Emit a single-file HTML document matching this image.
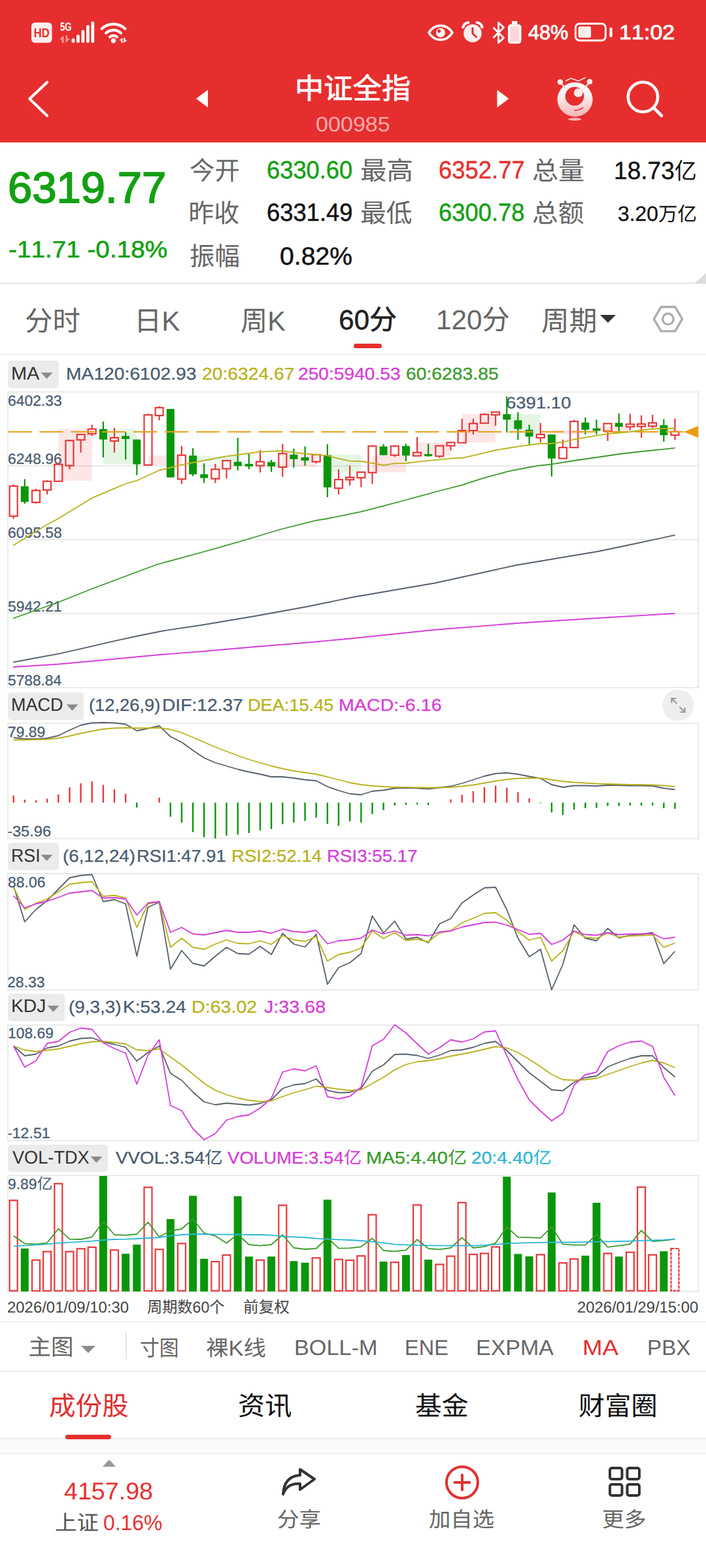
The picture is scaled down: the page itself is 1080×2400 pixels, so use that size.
<!DOCTYPE html><html lang="zh"><head><meta charset="utf-8"><title>中证全指 000985</title><style>
*{margin:0;padding:0;box-sizing:border-box}
html,body{width:1080px;height:2400px;background:#fff;overflow:hidden}
body{font-family:"Liberation Sans","Noto Sans CJK SC",sans-serif;position:relative;text-rendering:geometricPrecision;font-kerning:none}
#pg{position:absolute;left:0;top:0;width:1080px;height:2400px;overflow:hidden;background:#fff}
.t{position:absolute;white-space:nowrap;overflow:visible}
.a{position:absolute}
svg{display:block}
</style></head><body><div id="pg">
<div class="a" style="left:0;top:0;width:1080px;height:218px;background:#e62e2e"></div>
<div class="t" style="left:807.80px;top:34.26px;font-size:31px;line-height:31px;height:31px;color:#fff;transform:scaleX(0.9879);transform-origin:left center;-webkit-text-stroke:0.9px #fff;">48%</div>
<div class="t" style="left:946.90px;top:34.26px;font-size:31px;line-height:31px;height:31px;color:#fff;transform:scaleX(1.0997);transform-origin:left center;-webkit-text-stroke:0.9px #fff;">11:02</div>
<svg class="a" style="left:0;top:0" width="1080" height="100" viewBox="0 0 1080 100">
<rect x="48" y="34.500" width="31.500" height="31" rx="5.500" fill="#fdeeee"/>
<text x="63.700" y="57.300" font-family="Liberation Sans, sans-serif" font-weight="700" font-size="19.500" fill="#e62e2e" text-anchor="middle" textLength="24" lengthAdjust="spacingAndGlyphs">HD</text>
<text x="100.800" y="46.900" font-family="Liberation Sans, sans-serif" font-weight="700" font-size="18" fill="#fff" text-anchor="middle" textLength="17.500" lengthAdjust="spacingAndGlyphs">5G</text>
<g fill="#fff">
 <rect x="109.600" y="58.800" width="4.800" height="6.700" rx="1.800"/>
 <rect x="117" y="53.300" width="4.800" height="12.200" rx="1.800"/>
 <rect x="124.500" y="45.900" width="4.800" height="19.600" rx="1.800"/>
 <rect x="132" y="38.500" width="4.800" height="27" rx="1.800"/>
 <rect x="139.400" y="33" width="4.800" height="32.500" rx="1.800"/>
</g>
<g fill="#fff" opacity=".5"><path d="M91 60.500l6.500-6.300v11.200h-2.800v-4.900zM107 59.200l-6.500 6.300v-11.200h2.800v4.900z"/></g>
<g fill="none" stroke="#fff" stroke-width="4.200" stroke-linecap="round">
 <path d="M155.600 44a26 26 0 0 1 35.800 0"/>
 <path d="M162 50.700a16.500 16.500 0 0 1 23 0"/>
 <path d="M168 56.500a8 8 0 0 1 11 0"/>
</g>
<circle cx="173.500" cy="62.200" r="3.700" fill="#fff"/>
<path d="M182 61.700l5.600-4v7.800h-2.400v-3.800zM194.800 61.700l-5.600 4v-7.800h2.400v3.800z" fill="#fff"/>
<!-- eye -->
<path d="M656 50c9-14.500 27-14.500 36 0c-9 14.500-27 14.500-36 0z" fill="none" stroke="#fff" stroke-width="3.600"/>
<circle cx="674" cy="50" r="7" fill="#fff"/>
<circle cx="671.800" cy="47.600" r="2.600" fill="#e62e2e"/>
<!-- alarm -->
<circle cx="723" cy="51" r="13.800" fill="#fdeeee"/>
<path d="M723 43v8.500l5.500 5" fill="none" stroke="#e62e2e" stroke-width="3" stroke-linecap="round" stroke-linejoin="round"/>
<path d="M708.500 41.500a9 9 0 0 1 8-7M737.500 41.500a9 9 0 0 0-8-7" fill="none" stroke="#fff" stroke-width="4.200" stroke-linecap="round"/>
<!-- bluetooth -->
<path d="M754.500 42L770.500 58L762.500 65.500V34.500L770.500 42L754.500 58" fill="none" stroke="#fff" stroke-width="2.800" stroke-linejoin="round"/>
<!-- small battery -->
<rect x="778.500" y="38.800" width="17.500" height="26.400" rx="3" fill="#fbd8d8" stroke="#fff" stroke-width="3"/>
<rect x="783" y="32.200" width="8.500" height="5" rx="1.200" fill="#fff"/>
<!-- battery -->
<rect x="880.400" y="36.300" width="46" height="25.600" rx="6" fill="none" stroke="#fff" stroke-width="3"/>
<rect x="884.600" y="40.500" width="19.500" height="17.300" rx="2" fill="#fdeeee"/>
<rect x="932.500" y="42" width="4.200" height="15" rx="2.100" fill="#fff"/>
</svg>
<svg class="a" style="left:0;top:100px" width="1080" height="118" viewBox="0 100 1080 118">
<path d="M72 126L45.300 151.300L72 177" fill="none" stroke="#fff" stroke-width="4.200" stroke-linecap="round" stroke-linejoin="round"/>
<path d="M300 151l18-13.500v27z" fill="#fff"/>
<path d="M778.500 151l-18-13.500v27z" fill="#fff"/>
<circle cx="983.500" cy="148.500" r="22.700" fill="none" stroke="#fff" stroke-width="4.600"/>
<path d="M1000 165l12 12" stroke="#fff" stroke-width="4.800" stroke-linecap="round"/>
<!-- mascot -->
<defs><linearGradient id="mg" x1="0" y1="0" x2="0" y2="1"><stop offset="0" stop-color="#fff"/><stop offset=".4" stop-color="#fdeeee"/><stop offset="1" stop-color="#f7b2b2"/></linearGradient></defs>
<ellipse cx="879.600" cy="152.200" rx="27" ry="26.300" fill="url(#mg)"/>
<circle cx="879" cy="147.400" r="14.300" fill="#e62e2e"/>
<circle cx="884.700" cy="142" r="6.800" fill="#fdeaea"/>
<path d="M879 169q7.500-.2 12.700-4.300" stroke="#e62e2e" stroke-width="1.500" fill="none" stroke-linecap="round"/>
<circle cx="857" cy="125.500" r="4.300" fill="#fdeaea"/><circle cx="902" cy="125" r="4.300" fill="#fdeaea"/>
<path d="M858 127l7 8M901 127l-7 8" stroke="#fce0e0" stroke-width="2.200"/>
<path d="M865.200 124l8.200-4.200 11.400 4.200 11-5.300" stroke="#fdeaea" stroke-width="1.500" fill="none"/>
<ellipse cx="879.200" cy="182.500" rx="10.200" ry="2.200" fill="#f7b0b0"/>
</svg>
<div class="t" style="left:450.75px;top:114.55px;font-size:44px;line-height:44px;height:44px;color:#fff;transform:scaleX(1.0068);transform-origin:left center;-webkit-text-stroke:0.8px #fff;">中证全指</div>
<div class="t" style="left:482.97px;top:174.21px;font-size:32px;line-height:32px;height:32px;color:rgba(255,255,255,.62);transform:scaleX(1.0654);transform-origin:left center;">000985</div>
<div class="t" style="left:12.40px;top:255.01px;font-size:66.5px;line-height:66.5px;height:66.5px;color:#14a014;transform:scaleX(1.0079);transform-origin:left center;-webkit-text-stroke:1.8px #14a014;">6319.77</div>
<div class="t" style="left:12.78px;top:363.83px;font-size:36px;line-height:36px;height:36px;color:#14a014;transform:scaleX(1.0750);transform-origin:left center;-webkit-text-stroke:0.6px #14a014;">-11.71 -0.18%</div>
<div class="t" style="left:289.96px;top:243.49px;font-size:39px;line-height:39px;height:39px;color:#666;transform:scaleX(0.9846);transform-origin:left center;">今开</div>
<div class="t" style="left:288.34px;top:308.49px;font-size:39px;line-height:39px;height:39px;color:#666;">昨收</div>
<div class="t" style="left:289.88px;top:374.49px;font-size:39px;line-height:39px;height:39px;color:#666;transform:scaleX(0.9841);transform-origin:left center;">振幅</div>
<div class="t" style="left:408.16px;top:241.83px;font-size:38px;line-height:38px;height:38px;color:#14a014;transform:scaleX(0.9556);transform-origin:left center;-webkit-text-stroke:0.5px #14a014;">6330.60</div>
<div class="t" style="left:408.15px;top:306.83px;font-size:38px;line-height:38px;height:38px;color:#111;transform:scaleX(0.9579);transform-origin:left center;-webkit-text-stroke:0.5px #111;">6331.49</div>
<div class="t" style="left:428.47px;top:373.83px;font-size:38px;line-height:38px;height:38px;color:#111;transform:scaleX(1.0295);transform-origin:left center;-webkit-text-stroke:0.5px #111;">0.82%</div>
<div class="t" style="left:550.60px;top:243.49px;font-size:39px;line-height:39px;height:39px;color:#666;transform:scaleX(1.0379);transform-origin:left center;">最高</div>
<div class="t" style="left:550.63px;top:308.49px;font-size:39px;line-height:39px;height:39px;color:#666;transform:scaleX(1.0216);transform-origin:left center;">最低</div>
<div class="t" style="left:671.15px;top:241.83px;font-size:38px;line-height:38px;height:38px;color:#e83030;transform:scaleX(0.9587);transform-origin:left center;-webkit-text-stroke:0.5px #e83030;">6352.77</div>
<div class="t" style="left:671.15px;top:306.83px;font-size:38px;line-height:38px;height:38px;color:#14a014;transform:scaleX(0.9568);transform-origin:left center;-webkit-text-stroke:0.5px #14a014;">6300.78</div>
<div class="t" style="left:814.28px;top:243.49px;font-size:39px;line-height:39px;height:39px;color:#666;transform:scaleX(1.0259);transform-origin:left center;">总量</div>
<div class="t" style="left:814.29px;top:308.49px;font-size:39px;line-height:39px;height:39px;color:#666;transform:scaleX(1.0169);transform-origin:left center;">总额</div>
<div class="t" style="left:939.17px;top:242.83px;font-size:38px;line-height:38px;height:38px;color:#111;transform:scaleX(0.9761);transform-origin:left center;-webkit-text-stroke:0.4px #111;">18.73<span style="font-size:34.96px;-webkit-text-stroke:0">亿</span></div>
<div class="t" style="left:944.79px;top:311.41px;font-size:32px;line-height:32px;height:32px;color:#111;transform:scaleX(0.9938);transform-origin:left center;-webkit-text-stroke:0.3px #111;">3.20<span style="font-size:29.76px;-webkit-text-stroke:0">万亿</span></div>
<div class="a" style="left:0;top:432px;width:1080px;height:3px;background:#ececec"></div>
<svg class="a" style="left:1060px;top:418px" width="20" height="16"><path d="M20 0V16H2z" fill="#dcdcdc"/></svg>
<div class="t" style="left:38.13px;top:471.45px;font-size:42px;line-height:42px;height:42px;color:#666;transform:scaleX(1.0117);transform-origin:left center;">分时</div>
<div class="t" style="left:205.07px;top:471.45px;font-size:42px;line-height:42px;height:42px;color:#666;transform:scaleX(1.0056);transform-origin:left center;">日K</div>
<div class="t" style="left:367.64px;top:471.45px;font-size:42px;line-height:42px;height:42px;color:#666;transform:scaleX(0.9830);transform-origin:left center;">周K</div>
<div class="t" style="left:518.37px;top:469.45px;font-size:42px;line-height:42px;height:42px;color:#222;-webkit-text-stroke:0.6px #222;">60分</div>
<div class="t" style="left:666.78px;top:469.45px;font-size:42px;line-height:42px;height:42px;color:#666;transform:scaleX(1.0071);transform-origin:left center;">120分</div>
<div class="t" style="left:827.59px;top:471.45px;font-size:42px;line-height:42px;height:42px;color:#666;transform:scaleX(1.0183);transform-origin:left center;">周期</div>
<svg class="a" style="left:916px;top:478px" width="28" height="18"><path d="M2 4h24l-12 12z" fill="#333"/></svg>
<div class="a" style="left:541px;top:526px;width:43px;height:7px;border-radius:4px;background:#e62e2e"></div>
<svg class="a" style="left:995px;top:461px" width="54" height="54" viewBox="0 0 54 54"><path d="M16.200 8.700h21.600l10.800 18.600-10.800 18.600h-21.600l-10.800-18.600z" fill="none" stroke="#adadad" stroke-width="3.400" stroke-linejoin="round"/><circle cx="27" cy="27.300" r="8.300" fill="none" stroke="#adadad" stroke-width="3.400"/></svg>
<div class="a" style="left:0;top:542px;width:1080px;height:2px;background:#eee"></div>
<svg class="a" style="z-index:1;left:0;top:540px" width="1080" height="1480" viewBox="0 540 1080 1480"><rect x="12.0" y="600.0" width="1056.5" height="452.5" fill="none" stroke="#e3e3e3" stroke-width="1.500"/><path d="M12.0 713.3L1068.5 713.3" stroke="#e3e3e3" stroke-width="1.5"/><path d="M12.0 826.0L1068.5 826.0" stroke="#e3e3e3" stroke-width="1.5"/><path d="M12.0 939.0L1068.5 939.0" stroke="#e3e3e3" stroke-width="1.5"/><rect x="89.3" y="656.7" width="51.4" height="79.0" fill="rgba(240,63,63,.13)"/><rect x="157.7" y="656.7" width="51.3" height="54.0" fill="rgba(48,178,48,.13)"/><rect x="226.7" y="697.3" width="51.3" height="14.4" fill="rgba(240,63,63,.13)"/><rect x="295.0" y="697.5" width="68.7" height="8.0" fill="rgba(48,178,48,.13)"/><rect x="363.7" y="705.5" width="68.3" height="8.2" fill="rgba(43,180,43,.07)"/><rect x="432.0" y="694.0" width="52.0" height="20.0" fill="rgba(240,63,63,.13)"/><rect x="501.0" y="696.0" width="51.0" height="26.7" fill="rgba(48,178,48,.13)"/><rect x="569.5" y="697.3" width="51.5" height="25.4" fill="rgba(240,63,63,.13)"/><rect x="638.0" y="677.3" width="51.5" height="20.0" fill="rgba(240,63,63,.13)"/><rect x="706.7" y="634.0" width="51.3" height="43.3" fill="rgba(240,63,63,.13)"/><rect x="775.0" y="634.0" width="51.7" height="30.0" fill="rgba(48,178,48,.13)"/><rect x="843.9" y="658.0" width="51.1" height="6.0" fill="rgba(240,63,63,.13)"/><rect x="912.5" y="652.5" width="51.5" height="7.5" fill="rgba(240,63,63,.13)"/><rect x="1009.4" y="654.3" width="24.3" height="6.7" fill="rgba(48,178,48,.13)"/><path d="M20.7 741.7V744.0" stroke="#e8383a" stroke-width="2.2"/><path d="M20.7 790.0V794.0" stroke="#e8383a" stroke-width="2.2"/><rect x="14.7" y="744.0" width="12.0" height="46.0" fill="none" stroke="#e8383a" stroke-width="2.200"/><path d="M37.8 733.3V771.0" stroke="#0a960a" stroke-width="2.2"/><rect x="31.8" y="744.3" width="12.0" height="24.0" fill="#0a960a"/><path d="M55.0 748.0V750.7" stroke="#e8383a" stroke-width="2.2"/><path d="M55.0 769.0V770.7" stroke="#e8383a" stroke-width="2.2"/><rect x="49.0" y="750.7" width="12.0" height="18.3" fill="none" stroke="#e8383a" stroke-width="2.200"/><path d="M72.1 735.0V736.7" stroke="#e8383a" stroke-width="2.2"/><path d="M72.1 750.0V756.7" stroke="#e8383a" stroke-width="2.2"/><rect x="66.1" y="736.7" width="12.0" height="13.3" fill="none" stroke="#e8383a" stroke-width="2.200"/><path d="M89.3 709.0V710.7" stroke="#e8383a" stroke-width="2.2"/><rect x="83.3" y="710.7" width="12.0" height="26.0" fill="none" stroke="#e8383a" stroke-width="2.200"/><path d="M106.5 673.0V674.3" stroke="#e8383a" stroke-width="2.2"/><path d="M106.5 712.7V718.3" stroke="#e8383a" stroke-width="2.2"/><rect x="100.5" y="674.3" width="12.0" height="38.4" fill="none" stroke="#e8383a" stroke-width="2.200"/><path d="M123.6 664.0V665.0" stroke="#e8383a" stroke-width="2.2"/><path d="M123.6 673.3V692.7" stroke="#e8383a" stroke-width="2.2"/><rect x="117.6" y="665.0" width="12.0" height="8.3" fill="none" stroke="#e8383a" stroke-width="2.200"/><path d="M140.7 650.0V656.7" stroke="#e8383a" stroke-width="2.2"/><path d="M140.7 664.0V667.3" stroke="#e8383a" stroke-width="2.2"/><rect x="134.7" y="656.7" width="12.0" height="7.3" fill="none" stroke="#e8383a" stroke-width="2.200"/><path d="M157.9 645.3V700.0" stroke="#0a960a" stroke-width="2.2"/><rect x="151.9" y="656.7" width="12.0" height="16.0" fill="#0a960a"/><path d="M175.0 655.0V670.0" stroke="#e8383a" stroke-width="2.2"/><path d="M175.0 675.0V692.7" stroke="#e8383a" stroke-width="2.2"/><rect x="169.0" y="670.0" width="12.0" height="5.0" fill="none" stroke="#e8383a" stroke-width="2.200"/><path d="M192.2 661.7V703.3" stroke="#0a960a" stroke-width="2.2"/><rect x="186.2" y="667.3" width="12.0" height="4.7" fill="#0a960a"/><path d="M209.3 672.7V727.3" stroke="#0a960a" stroke-width="2.2"/><rect x="203.3" y="672.7" width="12.0" height="38.0" fill="#0a960a"/><path d="M226.5 633.3V635.0" stroke="#e8383a" stroke-width="2.2"/><rect x="220.5" y="635.0" width="12.0" height="76.7" fill="none" stroke="#e8383a" stroke-width="2.200"/><path d="M243.6 621.7V624.0" stroke="#e8383a" stroke-width="2.2"/><path d="M243.6 636.0V643.3" stroke="#e8383a" stroke-width="2.2"/><rect x="237.6" y="624.0" width="12.0" height="12.0" fill="none" stroke="#e8383a" stroke-width="2.200"/><path d="M260.8 626.0V730.7" stroke="#0a960a" stroke-width="2.2"/><rect x="254.8" y="626.0" width="12.0" height="104.7" fill="#0a960a"/><path d="M277.9 682.7V696.7" stroke="#e8383a" stroke-width="2.2"/><path d="M277.9 733.3V740.7" stroke="#e8383a" stroke-width="2.2"/><rect x="271.9" y="696.7" width="12.0" height="36.6" fill="none" stroke="#e8383a" stroke-width="2.200"/><path d="M295.1 686.0V728.7" stroke="#0a960a" stroke-width="2.2"/><rect x="289.1" y="697.3" width="12.0" height="28.7" fill="#0a960a"/><path d="M312.2 709.3V739.3" stroke="#0a960a" stroke-width="2.2"/><rect x="306.2" y="726.0" width="12.0" height="5.7" fill="#0a960a"/><path d="M329.4 710.0V718.3" stroke="#e8383a" stroke-width="2.2"/><path d="M329.4 732.7V739.3" stroke="#e8383a" stroke-width="2.2"/><rect x="323.4" y="718.3" width="12.0" height="14.4" fill="none" stroke="#e8383a" stroke-width="2.200"/><path d="M346.5 717.5V732.5" stroke="#e8383a" stroke-width="2.2"/><rect x="340.5" y="705.0" width="12.0" height="12.5" fill="none" stroke="#e8383a" stroke-width="2.200"/><path d="M363.7 670.0V720.0" stroke="#0a960a" stroke-width="2.2"/><rect x="357.7" y="706.7" width="12.0" height="6.6" fill="#0a960a"/><path d="M380.8 695.0V718.3" stroke="#0a960a" stroke-width="2.2"/><rect x="374.8" y="710.0" width="12.0" height="4.0" fill="#0a960a"/><path d="M398.0 689.0V706.7" stroke="#e8383a" stroke-width="2.2"/><path d="M398.0 712.7V723.3" stroke="#e8383a" stroke-width="2.2"/><rect x="392.0" y="706.7" width="12.0" height="6.0" fill="none" stroke="#e8383a" stroke-width="2.200"/><path d="M415.1 704.0V722.3" stroke="#0a960a" stroke-width="2.2"/><rect x="409.1" y="707.3" width="12.0" height="6.7" fill="#0a960a"/><path d="M432.3 679.3V694.3" stroke="#e8383a" stroke-width="2.2"/><path d="M432.3 715.0V730.0" stroke="#e8383a" stroke-width="2.2"/><rect x="426.3" y="694.3" width="12.0" height="20.7" fill="none" stroke="#e8383a" stroke-width="2.200"/><path d="M449.4 686.7V715.7" stroke="#0a960a" stroke-width="2.2"/><rect x="443.4" y="696.0" width="12.0" height="6.7" fill="#0a960a"/><path d="M466.6 683.3V712.7" stroke="#0a960a" stroke-width="2.2"/><rect x="460.6" y="700.0" width="12.0" height="5.0" fill="#0a960a"/><path d="M483.7 706.7V709.3" stroke="#e8383a" stroke-width="2.2"/><rect x="477.7" y="696.0" width="12.0" height="10.7" fill="none" stroke="#e8383a" stroke-width="2.200"/><path d="M500.9 680.0V761.0" stroke="#0a960a" stroke-width="2.2"/><rect x="494.9" y="696.7" width="12.0" height="49.3" fill="#0a960a"/><path d="M518.0 718.3V734.0" stroke="#e8383a" stroke-width="2.2"/><path d="M518.0 747.3V756.7" stroke="#e8383a" stroke-width="2.2"/><rect x="512.0" y="734.0" width="12.0" height="13.3" fill="none" stroke="#e8383a" stroke-width="2.200"/><path d="M535.2 712.7V730.7" stroke="#e8383a" stroke-width="2.2"/><path d="M535.2 734.3V743.3" stroke="#e8383a" stroke-width="2.2"/><rect x="529.2" y="730.7" width="12.0" height="3.6" fill="none" stroke="#e8383a" stroke-width="2.200"/><path d="M552.4 731.3V745.7" stroke="#e8383a" stroke-width="2.2"/><rect x="546.4" y="722.7" width="12.0" height="8.6" fill="none" stroke="#e8383a" stroke-width="2.200"/><path d="M569.5 681.7V682.7" stroke="#e8383a" stroke-width="2.2"/><path d="M569.5 723.3V740.7" stroke="#e8383a" stroke-width="2.2"/><rect x="563.5" y="682.7" width="12.0" height="40.6" fill="none" stroke="#e8383a" stroke-width="2.200"/><path d="M586.6 680.0V697.0" stroke="#0a960a" stroke-width="2.2"/><rect x="580.6" y="683.3" width="12.0" height="13.4" fill="#0a960a"/><path d="M603.8 681.7V682.7" stroke="#e8383a" stroke-width="2.2"/><path d="M603.8 696.7V699.3" stroke="#e8383a" stroke-width="2.2"/><rect x="597.8" y="682.7" width="12.0" height="14.0" fill="none" stroke="#e8383a" stroke-width="2.200"/><path d="M621.0 679.3V706.0" stroke="#0a960a" stroke-width="2.2"/><rect x="615.0" y="682.7" width="12.0" height="14.6" fill="#0a960a"/><path d="M638.1 669.0V692.7" stroke="#e8383a" stroke-width="2.2"/><rect x="632.1" y="692.7" width="12.0" height="5.0" fill="none" stroke="#e8383a" stroke-width="2.200"/><path d="M655.2 679.3V699.0" stroke="#0a960a" stroke-width="2.2"/><rect x="649.2" y="695.0" width="12.0" height="3.3" fill="#0a960a"/><path d="M672.4 681.7V682.3" stroke="#e8383a" stroke-width="2.2"/><path d="M672.4 698.3V700.7" stroke="#e8383a" stroke-width="2.2"/><rect x="666.4" y="682.3" width="12.0" height="16.0" fill="none" stroke="#e8383a" stroke-width="2.200"/><path d="M689.5 676.0V677.3" stroke="#e8383a" stroke-width="2.2"/><path d="M689.5 682.3V689.3" stroke="#e8383a" stroke-width="2.2"/><rect x="683.5" y="677.3" width="12.0" height="5.0" fill="none" stroke="#e8383a" stroke-width="2.200"/><path d="M706.7 641.0V659.0" stroke="#e8383a" stroke-width="2.2"/><rect x="700.7" y="659.0" width="12.0" height="18.7" fill="none" stroke="#e8383a" stroke-width="2.200"/><path d="M723.9 641.0V648.3" stroke="#e8383a" stroke-width="2.2"/><path d="M723.9 659.0V665.0" stroke="#e8383a" stroke-width="2.2"/><rect x="717.9" y="648.3" width="12.0" height="10.7" fill="none" stroke="#e8383a" stroke-width="2.200"/><path d="M741.0 632.3V634.3" stroke="#e8383a" stroke-width="2.2"/><rect x="735.0" y="634.3" width="12.0" height="13.4" fill="none" stroke="#e8383a" stroke-width="2.200"/><path d="M758.1 630.0V630.7" stroke="#e8383a" stroke-width="2.2"/><path d="M758.1 635.0V651.7" stroke="#e8383a" stroke-width="2.2"/><rect x="752.1" y="630.7" width="12.0" height="4.3" fill="none" stroke="#e8383a" stroke-width="2.200"/><path d="M775.3 606.7V661.7" stroke="#0a960a" stroke-width="2.2"/><rect x="769.3" y="634.0" width="12.0" height="8.3" fill="#0a960a"/><path d="M792.4 631.0V673.3" stroke="#0a960a" stroke-width="2.2"/><rect x="786.4" y="643.3" width="12.0" height="13.4" fill="#0a960a"/><path d="M809.6 650.0V680.0" stroke="#0a960a" stroke-width="2.2"/><rect x="803.6" y="657.7" width="12.0" height="10.6" fill="#0a960a"/><path d="M826.8 647.3V665.0" stroke="#e8383a" stroke-width="2.2"/><path d="M826.8 670.0V677.3" stroke="#e8383a" stroke-width="2.2"/><rect x="820.8" y="665.0" width="12.0" height="5.0" fill="none" stroke="#e8383a" stroke-width="2.200"/><path d="M843.9 665.0V729.3" stroke="#0a960a" stroke-width="2.2"/><rect x="837.9" y="665.0" width="12.0" height="36.7" fill="#0a960a"/><path d="M861.0 672.7V685.0" stroke="#e8383a" stroke-width="2.2"/><rect x="855.0" y="685.0" width="12.0" height="16.7" fill="none" stroke="#e8383a" stroke-width="2.200"/><path d="M878.2 642.7V645.0" stroke="#e8383a" stroke-width="2.2"/><rect x="872.2" y="645.0" width="12.0" height="40.0" fill="none" stroke="#e8383a" stroke-width="2.200"/><path d="M895.4 639.0V665.0" stroke="#0a960a" stroke-width="2.2"/><rect x="889.4" y="646.7" width="12.0" height="11.0" fill="#0a960a"/><path d="M912.5 642.3V665.0" stroke="#0a960a" stroke-width="2.2"/><rect x="906.5" y="655.7" width="12.0" height="3.6" fill="#0a960a"/><path d="M929.6 660.0V675.0" stroke="#e8383a" stroke-width="2.2"/><rect x="923.6" y="648.3" width="12.0" height="11.7" fill="none" stroke="#e8383a" stroke-width="2.200"/><path d="M946.8 632.7V662.7" stroke="#0a960a" stroke-width="2.2"/><rect x="940.8" y="647.3" width="12.0" height="6.0" fill="#0a960a"/><path d="M963.9 633.3V649.3" stroke="#e8383a" stroke-width="2.2"/><path d="M963.9 653.3V658.3" stroke="#e8383a" stroke-width="2.2"/><rect x="957.9" y="649.3" width="12.0" height="4.0" fill="none" stroke="#e8383a" stroke-width="2.200"/><path d="M981.1 635.7V649.0" stroke="#e8383a" stroke-width="2.2"/><path d="M981.1 652.7V670.0" stroke="#e8383a" stroke-width="2.2"/><rect x="975.1" y="649.0" width="12.0" height="3.7" fill="none" stroke="#e8383a" stroke-width="2.200"/><path d="M998.2 635.0V647.3" stroke="#e8383a" stroke-width="2.2"/><path d="M998.2 652.3V655.0" stroke="#e8383a" stroke-width="2.2"/><rect x="992.2" y="647.3" width="12.0" height="5.0" fill="none" stroke="#e8383a" stroke-width="2.200"/><path d="M1015.4 641.7V676.0" stroke="#0a960a" stroke-width="2.2"/><rect x="1009.4" y="650.7" width="12.0" height="15.3" fill="#0a960a"/><path d="M1032.5 640.7V660.7" stroke="#e8383a" stroke-width="2.2"/><path d="M1032.5 666.0V673.3" stroke="#e8383a" stroke-width="2.2"/><rect x="1026.5" y="660.7" width="12.0" height="5.3" fill="none" stroke="#e8383a" stroke-width="2.200"/><path d="M12.500 661H1046" stroke="#e8a21c" stroke-width="2" stroke-dasharray="36.400 11.500"/><path d="M1046 661l22 -9v18z" fill="#eb9d12"/><polyline points="20.0,1021.0 90.0,1016.5 140.0,1012.0 240.0,1002.5 310.0,997.0 390.0,990.0 470.0,983.5 540.0,977.0 665.0,964.0 790.0,954.0 915.0,946.0 1032.5,939.0" fill="none" stroke="#d63cd9" stroke-width="1.8" stroke-linejoin="round"/><polyline points="20.0,1013.7 50.0,1008.0 90.0,1000.7 130.0,991.7 175.0,981.2 215.0,972.5 250.0,965.5 310.0,956.5 390.0,943.0 470.0,928.5 540.0,914.0 665.0,892.5 790.0,865.0 915.0,844.0 970.0,832.5 1032.5,819.0" fill="none" stroke="#56606c" stroke-width="1.8" stroke-linejoin="round"/><polyline points="20.0,946.5 90.0,921.5 140.0,901.5 240.0,864.0 310.0,845.0 340.0,836.7 380.0,825.0 430.0,810.0 483.3,796.7 500.0,794.0 551.7,783.3 586.7,774.3 621.7,765.0 673.3,751.0 706.7,742.3 740.0,731.7 776.7,721.7 810.0,715.0 826.7,712.3 843.3,710.7 878.3,705.0 913.3,700.0 946.7,695.0 981.7,691.0 1015.0,687.7 1032.7,685.7" fill="none" stroke="#3a9a2a" stroke-width="1.8" stroke-linejoin="round"/><polyline points="20.0,835.0 71.7,803.3 90.0,793.3 140.0,762.7 173.3,748.3 193.3,740.0 209.0,735.7 243.3,720.0 260.0,716.0 276.7,711.7 311.7,705.0 346.7,698.3 380.0,694.0 396.7,691.7 430.0,690.0 450.0,692.7 483.3,696.0 500.0,697.3 516.7,701.7 535.0,705.7 551.7,706.0 570.0,709.0 586.7,712.0 603.3,709.3 621.7,709.0 640.0,706.7 673.3,703.3 690.0,701.7 706.7,701.0 723.3,697.3 740.0,693.3 758.3,689.0 776.7,686.0 793.3,683.3 810.0,681.0 826.7,679.0 843.3,679.0 861.7,676.5 878.3,672.5 896.7,669.3 913.3,666.7 930.0,664.2 946.7,662.5 963.3,661.0 981.7,658.5 998.3,656.5 1015.0,655.8 1032.7,655.5" fill="none" stroke="#b9b11c" stroke-width="1.8" stroke-linejoin="round"/><rect x="12.0" y="1107.0" width="1056.5" height="176.5" fill="none" stroke="#e3e3e3" stroke-width="1.500"/><path d="M20.7 1228.5V1217.5" stroke="#e8383a" stroke-width="2.400"/><path d="M37.8 1228.5V1224.0" stroke="#e8383a" stroke-width="2.400"/><path d="M55.0 1228.5V1225.0" stroke="#e8383a" stroke-width="2.400"/><path d="M72.1 1228.5V1222.5" stroke="#e8383a" stroke-width="2.400"/><path d="M89.3 1228.5V1216.0" stroke="#e8383a" stroke-width="2.400"/><path d="M106.5 1228.5V1205.0" stroke="#e8383a" stroke-width="2.400"/><path d="M123.6 1228.5V1199.0" stroke="#e8383a" stroke-width="2.400"/><path d="M140.7 1228.5V1196.0" stroke="#e8383a" stroke-width="2.400"/><path d="M157.9 1228.5V1201.5" stroke="#e8383a" stroke-width="2.400"/><path d="M175.0 1228.5V1208.0" stroke="#e8383a" stroke-width="2.400"/><path d="M192.2 1228.5V1215.0" stroke="#e8383a" stroke-width="2.400"/><path d="M209.3 1228.5V1236.0" stroke="#0a960a" stroke-width="2.400"/><path d="M243.6 1228.5V1221.0" stroke="#e8383a" stroke-width="2.400"/><path d="M260.8 1228.5V1250.0" stroke="#0a960a" stroke-width="2.400"/><path d="M277.9 1228.5V1259.0" stroke="#0a960a" stroke-width="2.400"/><path d="M295.1 1228.5V1273.5" stroke="#0a960a" stroke-width="2.400"/><path d="M312.2 1228.5V1281.5" stroke="#0a960a" stroke-width="2.400"/><path d="M329.4 1228.5V1283.5" stroke="#0a960a" stroke-width="2.400"/><path d="M346.5 1228.5V1279.0" stroke="#0a960a" stroke-width="2.400"/><path d="M363.7 1228.5V1277.5" stroke="#0a960a" stroke-width="2.400"/><path d="M380.8 1228.5V1275.0" stroke="#0a960a" stroke-width="2.400"/><path d="M398.0 1228.5V1271.0" stroke="#0a960a" stroke-width="2.400"/><path d="M415.1 1228.5V1269.0" stroke="#0a960a" stroke-width="2.400"/><path d="M432.3 1228.5V1261.5" stroke="#0a960a" stroke-width="2.400"/><path d="M449.4 1228.5V1259.0" stroke="#0a960a" stroke-width="2.400"/><path d="M466.6 1228.5V1256.5" stroke="#0a960a" stroke-width="2.400"/><path d="M483.7 1228.5V1251.5" stroke="#0a960a" stroke-width="2.400"/><path d="M500.9 1228.5V1261.0" stroke="#0a960a" stroke-width="2.400"/><path d="M518.0 1228.5V1264.0" stroke="#0a960a" stroke-width="2.400"/><path d="M535.2 1228.5V1257.0" stroke="#0a960a" stroke-width="2.400"/><path d="M552.4 1228.5V1259.0" stroke="#0a960a" stroke-width="2.400"/><path d="M569.5 1228.5V1246.0" stroke="#0a960a" stroke-width="2.400"/><path d="M586.6 1228.5V1240.0" stroke="#0a960a" stroke-width="2.400"/><path d="M603.8 1228.5V1233.0" stroke="#0a960a" stroke-width="2.400"/><path d="M621.0 1228.5V1232.0" stroke="#0a960a" stroke-width="2.400"/><path d="M638.1 1228.5V1231.5" stroke="#0a960a" stroke-width="2.400"/><path d="M655.2 1228.5V1232.0" stroke="#0a960a" stroke-width="2.400"/><path d="M689.5 1228.5V1223.5" stroke="#e8383a" stroke-width="2.400"/><path d="M706.7 1228.5V1216.5" stroke="#e8383a" stroke-width="2.400"/><path d="M723.9 1228.5V1211.0" stroke="#e8383a" stroke-width="2.400"/><path d="M741.0 1228.5V1205.0" stroke="#e8383a" stroke-width="2.400"/><path d="M758.1 1228.5V1202.5" stroke="#e8383a" stroke-width="2.400"/><path d="M775.3 1228.5V1205.5" stroke="#e8383a" stroke-width="2.400"/><path d="M792.4 1228.5V1212.5" stroke="#e8383a" stroke-width="2.400"/><path d="M809.6 1228.5V1222.0" stroke="#e8383a" stroke-width="2.400"/><path d="M826.8 1228.5V1229.5" stroke="#0a960a" stroke-width="2.400"/><path d="M843.9 1228.5V1243.5" stroke="#0a960a" stroke-width="2.400"/><path d="M861.0 1228.5V1247.5" stroke="#0a960a" stroke-width="2.400"/><path d="M878.2 1228.5V1239.0" stroke="#0a960a" stroke-width="2.400"/><path d="M895.4 1228.5V1237.0" stroke="#0a960a" stroke-width="2.400"/><path d="M912.5 1228.5V1236.5" stroke="#0a960a" stroke-width="2.400"/><path d="M929.6 1228.5V1233.5" stroke="#0a960a" stroke-width="2.400"/><path d="M946.8 1228.5V1233.5" stroke="#0a960a" stroke-width="2.400"/><path d="M963.9 1228.5V1233.0" stroke="#0a960a" stroke-width="2.400"/><path d="M981.1 1228.5V1233.0" stroke="#0a960a" stroke-width="2.400"/><path d="M998.2 1228.5V1233.0" stroke="#0a960a" stroke-width="2.400"/><path d="M1015.4 1228.5V1237.0" stroke="#0a960a" stroke-width="2.400"/><path d="M1032.5 1228.5V1238.0" stroke="#0a960a" stroke-width="2.400"/><polyline points="20.7,1129.0 37.8,1131.0 55.0,1131.0 72.1,1130.0 89.3,1126.0 106.5,1117.5 123.6,1110.0 140.7,1106.5 157.9,1106.0 175.0,1106.5 192.2,1108.5 209.3,1118.5 226.5,1115.0 243.6,1111.0 260.8,1127.5 277.9,1136.0 295.1,1148.5 312.2,1160.0 329.4,1167.5 346.5,1172.5 363.7,1177.5 380.8,1181.5 398.0,1185.0 415.1,1189.0 432.3,1189.0 449.4,1191.0 466.6,1193.5 483.7,1195.0 500.9,1204.0 518.0,1210.0 535.2,1215.0 552.4,1216.5 569.5,1211.0 586.6,1209.5 603.8,1206.5 621.0,1206.0 638.1,1206.5 655.2,1207.5 672.4,1205.5 689.5,1203.5 706.7,1199.0 723.9,1193.5 741.0,1188.0 758.1,1184.0 775.3,1183.0 792.4,1185.0 809.6,1188.5 826.8,1191.5 843.9,1201.0 861.0,1205.0 878.2,1202.5 895.4,1202.5 912.5,1203.0 929.6,1202.0 946.8,1202.0 963.9,1202.5 981.1,1202.5 998.2,1203.0 1015.4,1206.5 1032.5,1208.5" fill="none" stroke="#56606c" stroke-width="1.8" stroke-linejoin="round"/><polyline points="20.7,1132.5 37.8,1132.5 55.0,1132.0 72.1,1131.5 89.3,1130.0 106.5,1126.5 123.6,1122.5 140.7,1119.0 157.9,1116.0 175.0,1114.5 192.2,1114.0 209.3,1114.5 226.5,1114.5 243.6,1114.0 260.8,1116.5 277.9,1121.5 295.1,1128.5 312.2,1136.0 329.4,1143.5 346.5,1150.0 363.7,1156.5 380.8,1162.5 398.0,1167.5 415.1,1172.5 432.3,1176.5 449.4,1180.0 466.6,1182.5 483.7,1185.0 500.9,1189.0 518.0,1193.5 535.2,1198.0 552.4,1201.0 569.5,1203.0 586.6,1204.0 603.8,1205.0 621.0,1205.0 638.1,1205.5 655.2,1205.5 672.4,1205.5 689.5,1205.0 706.7,1203.5 723.9,1201.5 741.0,1198.5 758.1,1195.5 775.3,1193.0 792.4,1191.5 809.6,1191.0 826.8,1191.0 843.9,1193.5 861.0,1196.0 878.2,1197.5 895.4,1198.5 912.5,1199.5 929.6,1200.0 946.8,1200.5 963.9,1201.0 981.1,1201.0 998.2,1201.5 1015.4,1202.5 1032.5,1204.0" fill="none" stroke="#b9b11c" stroke-width="1.8" stroke-linejoin="round"/><rect x="12.0" y="1337.3" width="1056.5" height="177.7" fill="none" stroke="#e3e3e3" stroke-width="1.500"/><polyline points="20.7,1356.0 37.8,1411.0 55.0,1392.0 72.1,1378.5 89.3,1361.0 106.5,1343.5 123.6,1340.0 140.7,1338.5 157.9,1380.0 175.0,1377.0 192.2,1383.5 209.3,1463.5 226.5,1388.5 243.6,1381.0 260.8,1483.5 277.9,1455.0 295.1,1474.5 312.2,1478.5 329.4,1463.5 346.5,1450.0 363.7,1459.5 380.8,1460.5 398.0,1448.5 415.1,1461.0 432.3,1428.5 449.4,1445.0 466.6,1449.5 483.7,1430.0 500.9,1506.5 518.0,1481.0 535.2,1473.5 552.4,1459.5 569.5,1402.0 586.6,1428.0 603.8,1410.0 621.0,1437.5 638.1,1434.5 655.2,1443.0 672.4,1414.0 689.5,1406.0 706.7,1382.0 723.9,1370.0 741.0,1359.0 758.1,1358.0 775.3,1392.5 792.4,1436.0 809.6,1464.5 826.8,1453.0 843.9,1515.0 861.0,1476.0 878.2,1415.5 895.4,1436.0 912.5,1440.0 929.6,1421.0 946.8,1435.5 963.9,1431.5 981.1,1430.0 998.2,1427.5 1015.4,1475.0 1032.5,1456.0" fill="none" stroke="#56606c" stroke-width="1.8" stroke-linejoin="round"/><polyline points="20.7,1358.5 37.8,1392.0 55.0,1382.5 72.1,1376.0 89.3,1365.0 106.5,1353.5 123.6,1351.0 140.7,1349.5 157.9,1372.0 175.0,1370.5 192.2,1374.5 209.3,1419.5 226.5,1383.5 243.6,1380.0 260.8,1450.0 277.9,1436.0 295.1,1450.0 312.2,1453.0 329.4,1445.0 346.5,1438.5 363.7,1444.0 380.8,1444.5 398.0,1440.0 415.1,1445.5 432.3,1432.0 449.4,1438.5 466.6,1441.0 483.7,1433.5 500.9,1471.0 518.0,1461.0 535.2,1457.5 552.4,1451.0 569.5,1425.0 586.6,1436.5 603.8,1427.5 621.0,1439.5 638.1,1437.5 655.2,1441.5 672.4,1428.0 689.5,1424.5 706.7,1412.5 723.9,1405.5 741.0,1398.0 758.1,1397.0 775.3,1408.5 792.4,1426.0 809.6,1439.0 826.8,1434.5 843.9,1471.0 861.0,1455.0 878.2,1425.5 895.4,1434.5 912.5,1436.5 929.6,1428.0 946.8,1434.5 963.9,1432.5 981.1,1432.0 998.2,1431.0 1015.4,1450.0 1032.5,1443.5" fill="none" stroke="#b9b11c" stroke-width="1.8" stroke-linejoin="round"/><polyline points="20.7,1371.0 37.8,1389.5 55.0,1383.5 72.1,1379.5 89.3,1373.5 106.5,1367.0 123.6,1365.0 140.7,1363.0 157.9,1374.5 175.0,1374.0 192.2,1376.0 209.3,1400.5 226.5,1382.0 243.6,1380.0 260.8,1427.0 277.9,1419.5 295.1,1429.5 312.2,1431.0 329.4,1427.5 346.5,1424.0 363.7,1427.0 380.8,1427.0 398.0,1425.0 415.1,1428.5 432.3,1422.0 449.4,1426.0 466.6,1427.0 483.7,1424.0 500.9,1444.5 518.0,1440.0 535.2,1438.5 552.4,1436.0 569.5,1423.5 586.6,1429.5 603.8,1425.0 621.0,1431.5 638.1,1430.5 655.2,1432.5 672.4,1426.5 689.5,1425.0 706.7,1419.0 723.9,1415.5 741.0,1412.0 758.1,1411.5 775.3,1416.0 792.4,1423.0 809.6,1430.0 826.8,1428.5 843.9,1445.5 861.0,1439.0 878.2,1425.0 895.4,1430.5 912.5,1431.5 929.6,1427.5 946.8,1430.5 963.9,1429.5 981.1,1429.5 998.2,1429.0 1015.4,1437.0 1032.5,1434.5" fill="none" stroke="#d63cd9" stroke-width="1.8" stroke-linejoin="round"/><rect x="12.0" y="1569.0" width="1056.5" height="177.0" fill="none" stroke="#e3e3e3" stroke-width="1.500"/><polyline points="20.7,1601.0 37.8,1616.0 55.0,1613.5 72.1,1604.0 89.3,1601.0 106.5,1593.5 123.6,1589.5 140.7,1588.5 157.9,1595.0 175.0,1598.5 192.2,1603.0 209.3,1624.0 226.5,1611.0 243.6,1601.0 260.8,1643.0 277.9,1653.5 295.1,1671.5 312.2,1686.5 329.4,1691.0 346.5,1688.5 363.7,1690.0 380.8,1691.5 398.0,1689.0 415.1,1683.5 432.3,1666.0 449.4,1660.5 466.6,1658.5 483.7,1651.5 500.9,1669.0 518.0,1672.5 535.2,1672.0 552.4,1666.0 569.5,1639.5 586.6,1630.0 603.8,1614.0 621.0,1613.5 638.1,1615.5 655.2,1620.0 672.4,1615.0 689.5,1608.0 706.7,1607.0 723.9,1603.0 741.0,1597.0 758.1,1594.0 775.3,1608.0 792.4,1625.0 809.6,1642.0 826.8,1655.0 843.9,1668.0 861.0,1669.5 878.2,1656.5 895.4,1649.5 912.5,1647.0 929.6,1633.0 946.8,1626.0 963.9,1620.0 981.1,1616.0 998.2,1616.0 1015.4,1634.0 1032.5,1648.5" fill="none" stroke="#56606c" stroke-width="1.8" stroke-linejoin="round"/><polyline points="20.7,1601.0 37.8,1607.0 55.0,1609.5 72.1,1607.5 89.3,1605.5 106.5,1601.5 123.6,1597.5 140.7,1594.5 157.9,1594.0 175.0,1595.5 192.2,1598.0 209.3,1607.0 226.5,1608.0 243.6,1605.5 260.8,1618.0 277.9,1630.0 295.1,1644.0 312.2,1658.0 329.4,1669.0 346.5,1675.5 363.7,1680.5 380.8,1684.0 398.0,1686.0 415.1,1685.0 432.3,1678.5 449.4,1672.5 466.6,1668.0 483.7,1662.5 500.9,1664.5 518.0,1667.0 535.2,1669.0 552.4,1668.0 569.5,1658.5 586.6,1649.0 603.8,1637.5 621.0,1629.5 638.1,1625.0 655.2,1623.5 672.4,1620.5 689.5,1616.5 706.7,1613.5 723.9,1610.0 741.0,1606.0 758.1,1602.0 775.3,1604.0 792.4,1611.0 809.6,1621.5 826.8,1632.5 843.9,1644.5 861.0,1652.5 878.2,1653.5 895.4,1652.5 912.5,1650.5 929.6,1644.5 946.8,1638.5 963.9,1632.5 981.1,1627.0 998.2,1623.0 1015.4,1627.0 1032.5,1634.0" fill="none" stroke="#b9b11c" stroke-width="1.8" stroke-linejoin="round"/><polyline points="20.7,1601.0 37.8,1633.5 55.0,1623.5 72.1,1597.0 89.3,1594.0 106.5,1580.0 123.6,1573.5 140.7,1575.5 157.9,1596.0 175.0,1605.0 192.2,1612.0 209.3,1659.5 226.5,1615.0 243.6,1591.5 260.8,1692.0 277.9,1700.0 295.1,1727.5 312.2,1744.5 329.4,1735.0 346.5,1714.5 363.7,1709.0 380.8,1706.5 398.0,1696.0 415.1,1681.0 432.3,1641.0 449.4,1636.0 466.6,1639.0 483.7,1631.5 500.9,1678.5 518.0,1682.0 535.2,1678.0 552.4,1664.0 569.5,1600.5 586.6,1591.0 603.8,1568.5 621.0,1581.0 638.1,1597.5 655.2,1613.5 672.4,1603.5 689.5,1591.5 706.7,1595.0 723.9,1590.0 741.0,1579.5 758.1,1578.0 775.3,1616.0 792.4,1652.5 809.6,1683.5 826.8,1700.5 843.9,1715.5 861.0,1704.0 878.2,1661.0 895.4,1645.0 912.5,1641.0 929.6,1609.5 946.8,1600.5 963.9,1595.0 981.1,1593.5 998.2,1601.5 1015.4,1649.0 1032.5,1677.0" fill="none" stroke="#d63cd9" stroke-width="1.8" stroke-linejoin="round"/><rect x="12.0" y="1799.3" width="1056.5" height="177.4" fill="none" stroke="#e3e3e3" stroke-width="1.500"/><rect x="14.7" y="1837.3" width="12.0" height="138.4" fill="none" stroke="#e8383a" stroke-width="2.200"/><rect x="31.8" y="1911.0" width="12.0" height="65.7" fill="#0a960a"/><rect x="49.0" y="1928.7" width="12.0" height="47.0" fill="none" stroke="#e8383a" stroke-width="2.200"/><rect x="66.1" y="1915.7" width="12.0" height="60.0" fill="none" stroke="#e8383a" stroke-width="2.200"/><rect x="83.3" y="1811.7" width="12.0" height="164.0" fill="none" stroke="#e8383a" stroke-width="2.200"/><rect x="100.5" y="1915.7" width="12.0" height="60.0" fill="none" stroke="#e8383a" stroke-width="2.200"/><rect x="117.6" y="1911.3" width="12.0" height="64.4" fill="none" stroke="#e8383a" stroke-width="2.200"/><rect x="134.7" y="1909.0" width="12.0" height="66.7" fill="none" stroke="#e8383a" stroke-width="2.200"/><rect x="151.9" y="1800.0" width="12.0" height="176.7" fill="#0a960a"/><rect x="169.0" y="1913.3" width="12.0" height="62.4" fill="none" stroke="#e8383a" stroke-width="2.200"/><rect x="186.2" y="1919.0" width="12.0" height="57.7" fill="#0a960a"/><rect x="203.3" y="1905.0" width="12.0" height="71.7" fill="#0a960a"/><rect x="220.5" y="1817.3" width="12.0" height="158.4" fill="none" stroke="#e8383a" stroke-width="2.200"/><rect x="237.6" y="1912.3" width="12.0" height="63.4" fill="none" stroke="#e8383a" stroke-width="2.200"/><rect x="254.8" y="1866.0" width="12.0" height="110.7" fill="#0a960a"/><rect x="271.9" y="1903.3" width="12.0" height="72.4" fill="none" stroke="#e8383a" stroke-width="2.200"/><rect x="289.1" y="1830.3" width="12.0" height="146.4" fill="#0a960a"/><rect x="306.2" y="1926.7" width="12.0" height="50.0" fill="#0a960a"/><rect x="323.4" y="1931.0" width="12.0" height="44.7" fill="none" stroke="#e8383a" stroke-width="2.200"/><rect x="340.5" y="1921.0" width="12.0" height="54.7" fill="none" stroke="#e8383a" stroke-width="2.200"/><rect x="357.7" y="1831.0" width="12.0" height="145.7" fill="#0a960a"/><rect x="374.8" y="1923.3" width="12.0" height="53.4" fill="#0a960a"/><rect x="392.0" y="1928.7" width="12.0" height="47.0" fill="none" stroke="#e8383a" stroke-width="2.200"/><rect x="409.1" y="1923.3" width="12.0" height="53.4" fill="#0a960a"/><rect x="426.3" y="1844.7" width="12.0" height="131.0" fill="none" stroke="#e8383a" stroke-width="2.200"/><rect x="443.4" y="1930.3" width="12.0" height="46.4" fill="#0a960a"/><rect x="460.6" y="1932.7" width="12.0" height="44.0" fill="#0a960a"/><rect x="477.7" y="1925.3" width="12.0" height="50.4" fill="none" stroke="#e8383a" stroke-width="2.200"/><rect x="494.9" y="1836.3" width="12.0" height="140.4" fill="#0a960a"/><rect x="512.0" y="1927.7" width="12.0" height="48.0" fill="none" stroke="#e8383a" stroke-width="2.200"/><rect x="529.2" y="1929.0" width="12.0" height="46.7" fill="none" stroke="#e8383a" stroke-width="2.200"/><rect x="546.4" y="1922.3" width="12.0" height="53.4" fill="none" stroke="#e8383a" stroke-width="2.200"/><rect x="563.5" y="1859.3" width="12.0" height="116.4" fill="none" stroke="#e8383a" stroke-width="2.200"/><rect x="580.6" y="1931.0" width="12.0" height="45.7" fill="#0a960a"/><rect x="597.8" y="1932.0" width="12.0" height="43.7" fill="none" stroke="#e8383a" stroke-width="2.200"/><rect x="615.0" y="1921.0" width="12.0" height="55.7" fill="#0a960a"/><rect x="632.1" y="1844.3" width="12.0" height="131.4" fill="none" stroke="#e8383a" stroke-width="2.200"/><rect x="649.2" y="1928.0" width="12.0" height="48.7" fill="#0a960a"/><rect x="666.4" y="1935.3" width="12.0" height="40.4" fill="none" stroke="#e8383a" stroke-width="2.200"/><rect x="683.5" y="1922.7" width="12.0" height="53.0" fill="none" stroke="#e8383a" stroke-width="2.200"/><rect x="700.7" y="1840.7" width="12.0" height="135.0" fill="none" stroke="#e8383a" stroke-width="2.200"/><rect x="717.9" y="1920.0" width="12.0" height="55.7" fill="none" stroke="#e8383a" stroke-width="2.200"/><rect x="735.0" y="1918.5" width="12.0" height="57.2" fill="none" stroke="#e8383a" stroke-width="2.200"/><rect x="752.1" y="1908.5" width="12.0" height="67.2" fill="none" stroke="#e8383a" stroke-width="2.200"/><rect x="769.3" y="1801.0" width="12.0" height="175.7" fill="#0a960a"/><rect x="786.4" y="1919.3" width="12.0" height="57.4" fill="#0a960a"/><rect x="803.6" y="1923.0" width="12.0" height="53.7" fill="#0a960a"/><rect x="820.8" y="1920.4" width="12.0" height="55.3" fill="none" stroke="#e8383a" stroke-width="2.200"/><rect x="837.9" y="1825.2" width="12.0" height="151.5" fill="#0a960a"/><rect x="855.0" y="1933.0" width="12.0" height="42.7" fill="none" stroke="#e8383a" stroke-width="2.200"/><rect x="872.2" y="1927.0" width="12.0" height="48.7" fill="none" stroke="#e8383a" stroke-width="2.200"/><rect x="889.4" y="1921.9" width="12.0" height="54.8" fill="#0a960a"/><rect x="906.5" y="1841.0" width="12.0" height="135.7" fill="#0a960a"/><rect x="923.6" y="1918.5" width="12.0" height="57.2" fill="none" stroke="#e8383a" stroke-width="2.200"/><rect x="940.8" y="1923.3" width="12.0" height="53.4" fill="#0a960a"/><rect x="957.9" y="1916.7" width="12.0" height="59.0" fill="none" stroke="#e8383a" stroke-width="2.200"/><rect x="975.1" y="1817.0" width="12.0" height="158.7" fill="none" stroke="#e8383a" stroke-width="2.200"/><rect x="992.2" y="1920.7" width="12.0" height="55.0" fill="none" stroke="#e8383a" stroke-width="2.200"/><rect x="1009.4" y="1915.2" width="12.0" height="61.5" fill="#0a960a"/><rect x="1026.5" y="1911.0" width="12.0" height="64.7" fill="none" stroke="#e8383a" stroke-width="2.200" stroke-dasharray="5 1.200"/><polyline points="20.7,1891.7 37.8,1903.3 55.0,1904.3 72.1,1902.3 89.3,1880.7 106.5,1896.7 123.6,1897.0 140.7,1893.3 157.9,1870.0 175.0,1890.0 192.2,1890.7 209.3,1889.0 226.5,1870.7 243.6,1893.3 260.8,1884.0 277.9,1881.0 295.1,1866.0 312.2,1887.3 329.4,1891.7 346.5,1902.7 363.7,1889.3 380.8,1905.0 398.0,1906.7 415.1,1905.0 432.3,1890.0 449.4,1910.0 466.6,1912.0 483.7,1911.0 500.9,1894.3 518.0,1910.7 535.2,1910.3 552.4,1908.3 569.5,1895.3 586.6,1914.0 603.8,1915.3 621.0,1913.3 638.1,1897.3 655.2,1911.0 672.4,1912.3 689.5,1910.0 706.7,1894.4 723.9,1910.0 741.0,1908.1 758.1,1902.6 775.3,1878.1 792.4,1893.7 809.6,1894.1 826.8,1894.8 843.9,1877.8 861.0,1904.4 878.2,1905.6 895.4,1905.6 912.5,1889.6 929.6,1908.9 946.8,1906.7 963.9,1904.4 981.1,1883.3 998.2,1900.0 1015.4,1898.9 1032.5,1896.7" fill="none" stroke="#3a9a2a" stroke-width="1.8" stroke-linejoin="round"/><polyline points="20.7,1907.7 37.8,1906.3 55.0,1905.3 72.1,1904.3 89.3,1902.7 106.5,1901.7 123.6,1900.7 140.7,1899.7 157.9,1898.0 175.0,1897.0 192.2,1896.7 209.3,1896.0 226.5,1895.0 243.6,1894.0 260.8,1891.7 277.9,1890.0 295.1,1889.0 312.2,1889.0 329.4,1889.3 346.5,1889.7 363.7,1889.3 380.8,1890.0 398.0,1890.0 415.1,1890.7 432.3,1892.3 449.4,1893.3 466.6,1894.0 483.7,1895.7 500.9,1896.7 518.0,1897.3 535.2,1898.0 552.4,1899.0 569.5,1900.7 586.6,1902.3 603.8,1904.7 621.0,1905.3 638.1,1906.0 655.2,1906.3 672.4,1906.7 689.5,1906.7 706.7,1906.3 723.9,1906.7 741.0,1905.9 758.1,1904.8 775.3,1903.3 792.4,1902.6 809.6,1902.2 826.8,1901.9 843.9,1901.5 861.0,1901.5 878.2,1901.5 895.4,1901.1 912.5,1900.7 929.6,1900.4 946.8,1900.0 963.9,1899.6 981.1,1898.9 998.2,1898.5 1015.4,1897.8 1032.5,1896.7" fill="none" stroke="#2bb6d6" stroke-width="1.8" stroke-linejoin="round"/></svg>
<div class="a" style="left:12px;top:552px;width:78px;height:42px;background:#ebebeb;border-radius:5px"></div>
<div class="t" style="left:16.62px;top:558.30px;font-size:28px;line-height:28px;height:28px;color:#333;transform:scaleX(1.0341);transform-origin:left center;">MA</div>
<svg class="a" style="left:60px;top:568px" width="22" height="12"><path d="M2.500 2.300h18l-9 9.500z" fill="#8a8a8a"/></svg>
<div class="t" style="left:101.18px;top:558.99px;font-size:26px;line-height:26px;height:26px;color:#4a5c70;transform:scaleX(1.0870);transform-origin:left center;-webkit-text-stroke:0.3px currentColor;">MA120:6102.93</div>
<div class="t" style="left:308.58px;top:558.99px;font-size:26px;line-height:26px;height:26px;color:#b9b11c;transform:scaleX(1.0862);transform-origin:left center;-webkit-text-stroke:0.3px currentColor;">20:6324.67</div>
<div class="t" style="left:456.08px;top:558.99px;font-size:26px;line-height:26px;height:26px;color:#d63cd9;transform:scaleX(1.0835);transform-origin:left center;-webkit-text-stroke:0.3px currentColor;">250:5940.53</div>
<div class="t" style="left:621.06px;top:558.99px;font-size:26px;line-height:26px;height:26px;color:#3a9a2a;transform:scaleX(1.0884);transform-origin:left center;-webkit-text-stroke:0.3px currentColor;">60:6283.85</div>
<div class="t" style="left:11.54px;top:602.95px;font-size:22.5px;line-height:22.5px;height:22.5px;color:#4a5c70;transform:scaleX(1.0164);transform-origin:left center;-webkit-text-stroke:0.3px currentColor;">6402.33</div>
<div class="t" style="left:11.54px;top:692.25px;font-size:22.5px;line-height:22.5px;height:22.5px;color:#4a5c70;transform:scaleX(1.0164);transform-origin:left center;-webkit-text-stroke:0.3px currentColor;">6248.96</div>
<div class="t" style="left:11.54px;top:805.25px;font-size:22.5px;line-height:22.5px;height:22.5px;color:#4a5c70;transform:scaleX(1.0163);transform-origin:left center;-webkit-text-stroke:0.3px currentColor;">6095.58</div>
<div class="t" style="left:11.79px;top:918.25px;font-size:22.5px;line-height:22.5px;height:22.5px;color:#4a5c70;transform:scaleX(1.0147);transform-origin:left center;-webkit-text-stroke:0.3px currentColor;">5942.21</div>
<div class="t" style="left:11.79px;top:1031.25px;font-size:22.5px;line-height:22.5px;height:22.5px;color:#4a5c70;transform:scaleX(1.0091);transform-origin:left center;-webkit-text-stroke:0.3px currentColor;">5788.84</div>
<div class="t" style="left:774.10px;top:604.84px;font-size:25px;line-height:25px;height:25px;color:#4a5c70;transform:scaleX(1.1007);transform-origin:left center;-webkit-text-stroke:0.3px currentColor;">6391.10</div>
<div class="a" style="left:12px;top:1060px;width:116px;height:42px;background:#ebebeb;border-radius:5px"></div>
<div class="t" style="left:16.78px;top:1065.30px;font-size:28px;line-height:28px;height:28px;color:#333;transform:scaleX(0.9644);transform-origin:left center;">MACD</div>
<svg class="a" style="left:99px;top:1076px" width="22" height="12"><path d="M2.500 2.300h18l-9 9.500z" fill="#8a8a8a"/></svg>
<div class="t" style="left:135.81px;top:1066.49px;font-size:26px;line-height:26px;height:26px;color:#4a5c70;transform:scaleX(1.0512);transform-origin:left center;-webkit-text-stroke:0.3px currentColor;">(12,26,9)</div>
<div class="t" style="left:247.69px;top:1066.49px;font-size:26px;line-height:26px;height:26px;color:#4a5c70;transform:scaleX(1.0837);transform-origin:left center;-webkit-text-stroke:0.3px currentColor;">DIF:12.37</div>
<div class="t" style="left:378.77px;top:1066.49px;font-size:26px;line-height:26px;height:26px;color:#b9b11c;transform:scaleX(1.0447);transform-origin:left center;-webkit-text-stroke:0.3px currentColor;">DEA:15.45</div>
<div class="t" style="left:517.65px;top:1066.49px;font-size:26px;line-height:26px;height:26px;color:#d63cd9;transform:scaleX(1.1019);transform-origin:left center;-webkit-text-stroke:0.3px currentColor;">MACD:-6.16</div>
<div class="t" style="left:12.33px;top:1109.65px;font-size:22.5px;line-height:22.5px;height:22.5px;color:#4a5c70;transform:scaleX(1.0169);transform-origin:left center;-webkit-text-stroke:0.3px currentColor;">79.89</div>
<div class="t" style="left:11.45px;top:1262.45px;font-size:22.5px;line-height:22.5px;height:22.5px;color:#4a5c70;transform:scaleX(1.0516);transform-origin:left center;-webkit-text-stroke:0.3px currentColor;">-35.96</div>
<svg class="a" style="left:1013px;top:1055px" width="50" height="50" viewBox="0 0 50 50"><circle cx="24.500" cy="24.500" r="24" fill="#eee"/><g fill="none" stroke="#9a9a9a" stroke-width="2.200"><path d="M14.500 21v-7h7M14.500 14l8 8M34.500 28v7h-7M34.500 35l-8-8"/></g></svg>
<div class="a" style="left:12px;top:1290px;width:78px;height:42px;background:#ebebeb;border-radius:5px"></div>
<div class="t" style="left:16.80px;top:1295.80px;font-size:28px;line-height:28px;height:28px;color:#333;transform:scaleX(0.9571);transform-origin:left center;">RSI</div>
<svg class="a" style="left:60px;top:1306px" width="22" height="12"><path d="M2.500 2.300h18l-9 9.500z" fill="#8a8a8a"/></svg>
<div class="t" style="left:95.78px;top:1297.49px;font-size:26px;line-height:26px;height:26px;color:#4a5c70;transform:scaleX(1.0661);transform-origin:left center;-webkit-text-stroke:0.3px currentColor;">(6,12,24)</div>
<div class="t" style="left:208.76px;top:1297.49px;font-size:26px;line-height:26px;height:26px;color:#4a5c70;transform:scaleX(1.0498);transform-origin:left center;-webkit-text-stroke:0.3px currentColor;">RSI1:47.91</div>
<div class="t" style="left:353.74px;top:1297.49px;font-size:26px;line-height:26px;height:26px;color:#b9b11c;transform:scaleX(1.0614);transform-origin:left center;-webkit-text-stroke:0.3px currentColor;">RSI2:52.14</div>
<div class="t" style="left:500.23px;top:1297.49px;font-size:26px;line-height:26px;height:26px;color:#d63cd9;transform:scaleX(1.0659);transform-origin:left center;-webkit-text-stroke:0.3px currentColor;">RSI3:55.17</div>
<div class="t" style="left:11.50px;top:1339.95px;font-size:22.5px;line-height:22.5px;height:22.5px;color:#4a5c70;transform:scaleX(1.0214);transform-origin:left center;-webkit-text-stroke:0.3px currentColor;">88.06</div>
<div class="t" style="left:11.34px;top:1492.95px;font-size:22.5px;line-height:22.5px;height:22.5px;color:#4a5c70;transform:scaleX(1.0243);transform-origin:left center;-webkit-text-stroke:0.3px currentColor;">28.33</div>
<div class="a" style="left:12px;top:1521px;width:87px;height:42px;background:#ebebeb;border-radius:5px"></div>
<div class="t" style="left:16.68px;top:1526.30px;font-size:28px;line-height:28px;height:28px;color:#333;transform:scaleX(1.0099);transform-origin:left center;">KDJ</div>
<svg class="a" style="left:70px;top:1537px" width="22" height="12"><path d="M2.500 2.300h18l-9 9.500z" fill="#8a8a8a"/></svg>
<div class="t" style="left:104.77px;top:1527.99px;font-size:26px;line-height:26px;height:26px;color:#4a5c70;transform:scaleX(1.0706);transform-origin:left center;-webkit-text-stroke:0.3px currentColor;">(9,3,3)</div>
<div class="t" style="left:187.70px;top:1527.99px;font-size:26px;line-height:26px;height:26px;color:#4a5c70;transform:scaleX(1.0780);transform-origin:left center;-webkit-text-stroke:0.3px currentColor;">K:53.24</div>
<div class="t" style="left:292.65px;top:1527.99px;font-size:26px;line-height:26px;height:26px;color:#b9b11c;transform:scaleX(1.1013);transform-origin:left center;-webkit-text-stroke:0.3px currentColor;">D:63.02</div>
<div class="t" style="left:403.55px;top:1527.99px;font-size:26px;line-height:26px;height:26px;color:#d63cd9;transform:scaleX(1.1045);transform-origin:left center;-webkit-text-stroke:0.3px currentColor;">J:33.68</div>
<div class="t" style="left:12.26px;top:1570.95px;font-size:22.5px;line-height:22.5px;height:22.5px;color:#4a5c70;transform:scaleX(1.0146);transform-origin:left center;-webkit-text-stroke:0.3px currentColor;">108.69</div>
<div class="t" style="left:11.47px;top:1723.95px;font-size:22.5px;line-height:22.5px;height:22.5px;color:#4a5c70;transform:scaleX(1.0292);transform-origin:left center;-webkit-text-stroke:0.3px currentColor;">-12.51</div>
<div class="a" style="left:12px;top:1752px;width:153px;height:42px;background:#ebebeb;border-radius:5px"></div>
<div class="t" style="left:18.88px;top:1758.30px;font-size:28px;line-height:28px;height:28px;color:#333;transform:scaleX(0.9698);transform-origin:left center;">VOL-TDX</div>
<svg class="a" style="left:136px;top:1768px" width="22" height="12"><path d="M2.500 2.300h18l-9 9.500z" fill="#8a8a8a"/></svg>
<div class="t" style="left:176.88px;top:1759.49px;font-size:26px;line-height:26px;height:26px;color:#4a5c70;transform:scaleX(1.0695);transform-origin:left center;-webkit-text-stroke:0.3px currentColor;">VVOL:3.54<span style="-webkit-text-stroke:0">亿</span></div>
<div class="t" style="left:347.88px;top:1759.49px;font-size:26px;line-height:26px;height:26px;color:#d63cd9;transform:scaleX(1.0604);transform-origin:left center;-webkit-text-stroke:0.3px currentColor;">VOLUME:3.54<span style="-webkit-text-stroke:0">亿</span></div>
<div class="t" style="left:559.60px;top:1759.49px;font-size:26px;line-height:26px;height:26px;color:#3a9a2a;transform:scaleX(1.1232);transform-origin:left center;-webkit-text-stroke:0.3px currentColor;">MA5:4.40<span style="-webkit-text-stroke:0">亿</span></div>
<div class="t" style="left:720.58px;top:1759.49px;font-size:26px;line-height:26px;height:26px;color:#2bb6d6;transform:scaleX(1.0890);transform-origin:left center;-webkit-text-stroke:0.3px currentColor;">20:4.40<span style="-webkit-text-stroke:0">亿</span></div>
<div class="t" style="left:12.23px;top:1801.95px;font-size:22.5px;line-height:22.5px;height:22.5px;color:#4a5c70;transform:scaleX(1.0170);transform-origin:left center;-webkit-text-stroke:0.3px currentColor;">9.89<span style="font-size:23.62px;-webkit-text-stroke:0">亿</span></div>
<div class="t" style="left:10.80px;top:1989.68px;font-size:24px;line-height:24px;height:24px;color:#444;transform:scaleX(0.9962);transform-origin:left center;">2026/01/09/10:30</div>
<div class="t" style="left:225.24px;top:1989.68px;font-size:24px;line-height:24px;height:24px;color:#444;transform:scaleX(0.9657);transform-origin:left center;">周期数60个</div>
<div class="t" style="left:371.75px;top:1989.68px;font-size:24px;line-height:24px;height:24px;color:#444;transform:scaleX(0.9863);transform-origin:left center;">前复权</div>
<div class="t" style="left:882.80px;top:1989.68px;font-size:24px;line-height:24px;height:24px;color:#444;transform:scaleX(0.9908);transform-origin:left center;">2026/01/29/15:00</div>
<div class="a" style="left:0;top:2022px;width:1080px;height:2px;background:#ececec"></div>
<div class="a" style="left:0;top:2098px;width:1080px;height:2px;background:#ececec"></div>
<div class="a" style="left:192px;top:2040px;width:2px;height:41px;background:#e6e6e6"></div>
<div class="t" style="left:43.57px;top:2046.30px;font-size:34.5px;line-height:34.5px;height:34.5px;color:#666;">主图</div>
<svg class="a" style="left:123px;top:2059px" width="24" height="14"><path d="M1 1h22l-11 11z" fill="#8c8c8c"/></svg>
<div class="t" style="left:213.95px;top:2047.07px;font-size:33px;line-height:33px;height:33px;color:#666;transform:scaleX(0.9018);transform-origin:left center;">寸图</div>
<div class="t" style="left:314.83px;top:2047.07px;font-size:33px;line-height:33px;height:33px;color:#666;transform:scaleX(1.0447);transform-origin:left center;">裸K线</div>
<div class="t" style="left:450.19px;top:2045.57px;font-size:33px;line-height:33px;height:33px;color:#666;transform:scaleX(1.0387);transform-origin:left center;">BOLL-M</div>
<div class="t" style="left:619.32px;top:2045.57px;font-size:33px;line-height:33px;height:33px;color:#666;transform:scaleX(0.9886);transform-origin:left center;">ENE</div>
<div class="t" style="left:728.22px;top:2045.57px;font-size:33px;line-height:33px;height:33px;color:#666;transform:scaleX(1.0287);transform-origin:left center;">EXPMA</div>
<div class="t" style="left:890.99px;top:2045.57px;font-size:33px;line-height:33px;height:33px;color:#e03030;transform:scaleX(1.1128);transform-origin:left center;">MA</div>
<div class="t" style="left:990.28px;top:2045.57px;font-size:33px;line-height:33px;height:33px;color:#666;transform:scaleX(1.0059);transform-origin:left center;">PBX</div>
<div class="t" style="left:74.54px;top:2133.14px;font-size:40px;line-height:40px;height:40px;color:#e03030;transform:scaleX(1.0157);transform-origin:left center;">成份股</div>
<div class="t" style="left:363.98px;top:2133.14px;font-size:40px;line-height:40px;height:40px;color:#111;transform:scaleX(1.0292);transform-origin:left center;">资讯</div>
<div class="t" style="left:634.53px;top:2133.14px;font-size:40px;line-height:40px;height:40px;color:#111;transform:scaleX(1.0201);transform-origin:left center;">基金</div>
<div class="t" style="left:885.13px;top:2133.14px;font-size:40px;line-height:40px;height:40px;color:#111;transform:scaleX(1.0049);transform-origin:left center;">财富圈</div>
<div class="a" style="left:0;top:2201px;width:1080px;height:2px;background:#ebebeb"></div>
<div class="a" style="left:100px;top:2196px;width:70px;height:7px;border-radius:4px;background:#e62e2e"></div>
<div class="a" style="left:0;top:2203px;width:1080px;height:21px;background:#fafafa"></div>
<div class="a" style="left:0;top:2224px;width:1080px;height:2px;background:#f0f0f0"></div>
<svg class="a" style="left:156px;top:2234px" width="22" height="12"><path d="M1 11h20l-8-9q-2-2-4 0z" fill="#9a9a9a"/></svg>
<div class="t" style="left:98.14px;top:2263.68px;font-size:37px;line-height:37px;height:37px;color:#e83030;transform:scaleX(1.0168);transform-origin:left center;">4157.98</div>
<div class="t" style="left:84.29px;top:2314.91px;font-size:32px;line-height:32px;height:32px;color:#555;transform:scaleX(1.0466);transform-origin:left center;">上证</div>
<div class="t" style="left:157.75px;top:2314.07px;font-size:33px;line-height:33px;height:33px;color:#e83030;transform:scaleX(0.9659);transform-origin:left center;">0.16%</div>
<svg class="a" style="left:425px;top:2240px" width="64" height="56" viewBox="0 0 64 56"><path d="M34 9L56 24L34 40V31C20 30 12 36 8 47C9 30 17 19 34 18Z" fill="none" stroke="#333" stroke-width="4" stroke-linejoin="round"/></svg>
<div class="t" style="left:423.52px;top:2309.91px;font-size:32px;line-height:32px;height:32px;color:#666;transform:scaleX(1.0504);transform-origin:left center;">分享</div>
<svg class="a" style="left:678px;top:2240px" width="58" height="58" viewBox="0 0 58 58"><circle cx="29" cy="29" r="24" fill="none" stroke="#e03030" stroke-width="4"/><path d="M29 17.500v23M17.500 29h23" stroke="#e03030" stroke-width="4" stroke-linecap="round"/></svg>
<div class="t" style="left:656.07px;top:2309.91px;font-size:32px;line-height:32px;height:32px;color:#666;transform:scaleX(1.0424);transform-origin:left center;">加自选</div>
<svg class="a" style="left:928px;top:2242px" width="56" height="54" viewBox="0 0 56 54"><g fill="none" stroke="#333" stroke-width="4"><rect x="5" y="5" width="18.500" height="17" rx="3"/><rect x="31.500" y="5" width="18.500" height="17" rx="3"/><rect x="5" y="30" width="18.500" height="17" rx="3"/><rect x="31.500" y="30" width="18.500" height="17" rx="3"/></g></svg>
<div class="t" style="left:921.41px;top:2309.91px;font-size:32px;line-height:32px;height:32px;color:#666;transform:scaleX(1.0543);transform-origin:left center;">更多</div>
</div></body></html>
